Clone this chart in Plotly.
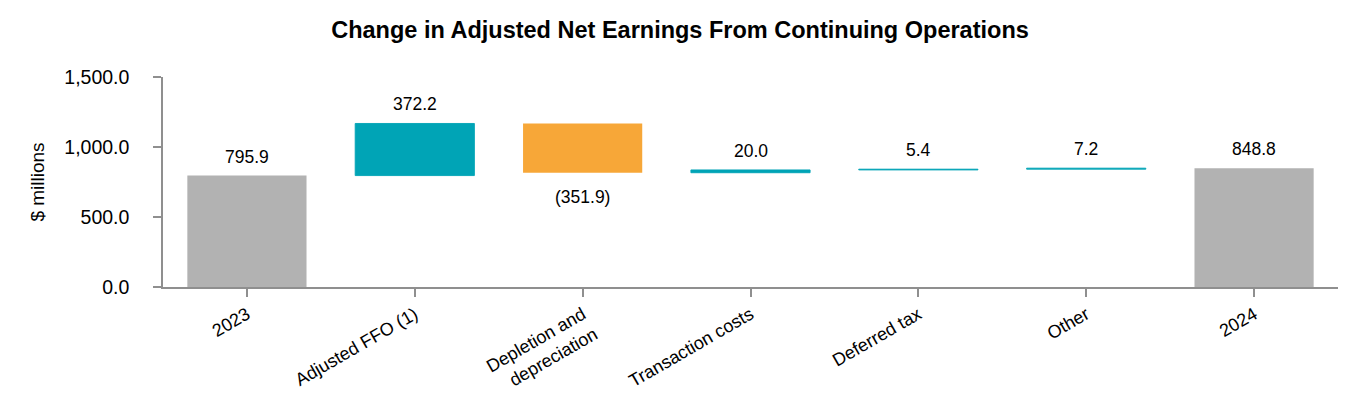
import plotly.graph_objects as go

categories = ["2023", "Adjusted FFO (1)", "Depletion and<br>depreciation", "Transaction costs",
              "Deferred tax", "Other", "2024"]
values = [795.9, 372.2, -351.9, 20.0, 5.4, 7.2, 848.8]
measures = ["absolute", "relative", "relative", "relative", "relative", "relative", "total"]
labels = ["795.9", "372.2", "(351.9)", "20.0", "5.4", "7.2", "848.8"]
ytick_vals = [0, 500, 1000, 1500]

TEAL = "#00A4B6"
ORANGE = "#F7A738"
GRAY = "#B2B2B2"
AXIS = "#8F8F8F"
FONT = "Liberation Sans, Arial, sans-serif"

fig = go.Figure(go.Waterfall(
    x=categories, y=values, measure=measures,
    increasing=dict(marker=dict(color=TEAL, line=dict(color=TEAL, width=0.9))),
    decreasing=dict(marker=dict(color=ORANGE, line=dict(color=ORANGE, width=0))),
    totals=dict(marker=dict(color=GRAY, line=dict(color=GRAY, width=0))),
    connector=dict(visible=False),
    width=0.71,
))

# value labels placed at bar ends, derived from the running total
running = 0.0
for i, (val, meas, lab) in enumerate(zip(values, measures, labels)):
    if meas == "relative":
        start = running
        running += val
    else:
        start = 0.0
        running = val
    end = running
    if val >= 0:
        fig.add_annotation(x=i, y=max(start, end), text=lab, showarrow=False,
                           xref="x", yref="y", yanchor="middle", yshift=19,
                           font=dict(size=17.5, family=FONT, color="#000000"))
    else:
        fig.add_annotation(x=i, y=min(start, end), text=lab, showarrow=False,
                           xref="x", yref="y", yanchor="middle", yshift=-24,
                           font=dict(size=17.5, family=FONT, color="#000000"))

fig.update_layout(
    width=1360, height=420,
    margin=dict(l=163, r=22, t=77, b=133),
    paper_bgcolor="white", plot_bgcolor="white",
    showlegend=False,
    font=dict(family=FONT, color="#000000"),
    title=dict(text="<b>Change in Adjusted Net Earnings From Continuing Operations</b>",
               x=0.5, xanchor="center", y=0.93, yanchor="middle",
               font=dict(size=23.5, family=FONT, color="#000000")),
)
fig.update_xaxes(
    type="category",
    showline=True, linecolor=AXIS, linewidth=2,
    ticks="outside", ticklen=8, tickcolor=AXIS, tickwidth=1.5,
    tickangle=-30, tickfont=dict(size=18, family=FONT, color="#000000"),
    showgrid=False, range=[-0.5, 6.5],
)
fig.update_yaxes(
    range=[0, 1500], tickvals=ytick_vals, tickformat=",.1f",
    showline=True, linecolor=AXIS, linewidth=1.5,
    ticks="outside", ticklen=8, tickcolor=AXIS, tickwidth=1.5,
    ticklabelstandoff=20,
    tickfont=dict(size=19.5, family=FONT, color="#000000"),
    showgrid=False, zeroline=False,
    title=dict(text="$ millions", font=dict(size=19, family=FONT, color="#000000"), standoff=15),
)

fig.write_html("out.html")
